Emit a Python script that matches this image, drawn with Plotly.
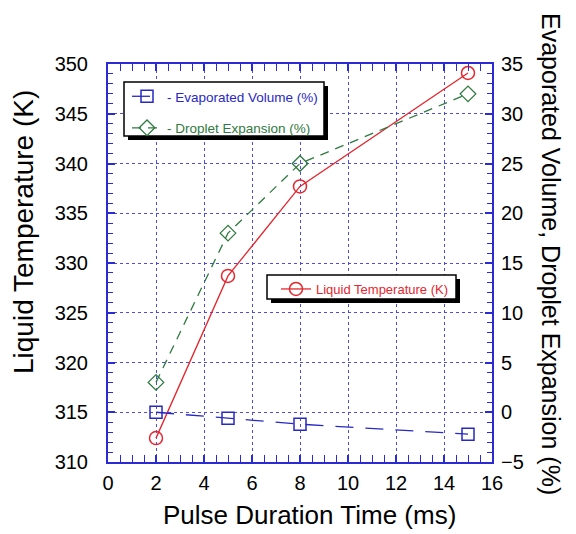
import plotly.graph_objects as go

# ---- data ----
pulse_ms = [2, 5, 8, 15]
liquid_temp_K = [312.4, 328.7, 337.7, 349.1]
droplet_expansion_pct = [3.0, 18.0, 25.0, 32.0]
evaporated_volume_pct = [0.0, -0.6, -1.2, -2.2]

x_ticks = list(range(0, 17, 2))
y_left_ticks = list(range(310, 351, 5))
y_right_ticks = list(range(-5, 36, 5))

name_evap = "- Evaporated Volume (%)"
name_drop = "- Droplet Expansion (%)"
name_temp = "Liquid Temperature (K)"

# ---- styles ----
AXIS_BLUE = "#2a2ad6"
GRID_BLUE = "#4c4ce6"
RED = "#e5262e"
GREEN = "#2f7a3e"
BLUE = "#2828c4"
FONT = "Liberation Sans, Arial, Helvetica, sans-serif"

W, H = 576, 534
OFF = 8  # default page body margin
ML, MR, MT, MB = 108, 84, 64, 72  # in page pixels
PW, PH = W - ML - MR, H - MT - MB


def px(x):
    return (x - ML) / PW


def py(y):
    return (H - MB - y) / PH


fig = go.Figure()

fig.add_trace(go.Scatter(
    x=pulse_ms, y=evaporated_volume_pct, yaxis="y2", mode="lines+markers",
    name=f'<span style="color:{BLUE}">{name_evap}</span>',
    line=dict(color=BLUE, width=1.3, dash="18px,12px"),
    marker=dict(symbol="square-open", size=12, color=BLUE, line=dict(width=1.5, color=BLUE)),
    legend="legend", legendgroup="a"))

fig.add_trace(go.Scatter(
    x=pulse_ms, y=droplet_expansion_pct, yaxis="y2", mode="lines+markers",
    name=f'<span style="color:{GREEN}">{name_drop}</span>',
    line=dict(color=GREEN, width=1.3, dash="9px,7px"),
    marker=dict(symbol="diamond-open", size=12, color=GREEN, line=dict(width=1.3, color=GREEN)),
    legend="legend", legendgroup="b"))

fig.add_trace(go.Scatter(
    x=pulse_ms, y=liquid_temp_K, yaxis="y", mode="lines+markers",
    name=f'<span style="color:{RED}">{name_temp}</span>',
    line=dict(color=RED, width=1.3),
    marker=dict(symbol="circle-open", size=13, color=RED, line=dict(width=1.5, color=RED)),
    legend="legend2"))

axis_common = dict(
    showline=True, linecolor=AXIS_BLUE, linewidth=2,
    ticks="inside", ticklen=7, tickwidth=1.5, tickcolor=AXIS_BLUE,
    showgrid=True, gridcolor=GRID_BLUE, gridwidth=1, griddash="dot",
    zeroline=False,
    tickfont=dict(family=FONT, size=20, color="black"),
)

fig.update_layout(
    width=W - OFF, height=H - OFF,
    margin=dict(l=ML - OFF, r=MR, t=MT - OFF, b=MB, autoexpand=False),
    paper_bgcolor="white", plot_bgcolor="white",
    font=dict(family=FONT, color="black"),
    xaxis=dict(range=[0, 16], tickvals=x_ticks, mirror="allticks",
               minor=dict(ticks="inside", dtick=0.5, ticklen=5, tickcolor=AXIS_BLUE, tickwidth=1.2),
               ticklabelstandoff=2, **axis_common),
    yaxis=dict(range=[310, 350], tickvals=y_left_ticks,
               minor=dict(ticks="inside", dtick=1, ticklen=5, tickcolor=AXIS_BLUE, tickwidth=1.2),
               ticklabelstandoff=14, **axis_common),
    yaxis2=dict(range=[-5, 35], tickvals=y_right_ticks, overlaying="y", side="right",
                minor=dict(ticks="inside", dtick=1, ticklen=5, tickcolor=AXIS_BLUE, tickwidth=1.2),
                ticklabelstandoff=3, **{**axis_common, "showgrid": False}),
    legend=dict(x=px(127), y=py(81), xanchor="left", yanchor="top",
                bgcolor="rgba(0,0,0,0)", borderwidth=0, tracegroupgap=11,
                font=dict(family=FONT, size=13.5)),
    legend2=dict(x=px(276), y=py(274), xanchor="left", yanchor="top",
                 bgcolor="rgba(0,0,0,0)", borderwidth=0,
                 font=dict(family=FONT, size=13)),
    showlegend=True,
)


# legend boxes with drop shadows
def box(x0, y0, x1, y1, off=4):
    fig.add_shape(type="rect", xref="paper", yref="paper",
                  x0=px(x0 + off), x1=px(x1 + off), y0=py(y0 + off), y1=py(y1 + off),
                  fillcolor="black", line=dict(width=0), layer="above")
    fig.add_shape(type="rect", xref="paper", yref="paper",
                  x0=px(x0), x1=px(x1), y0=py(y0), y1=py(y1),
                  fillcolor="white", line=dict(color="black", width=1.5), layer="above")


box(124, 82, 324, 136)
box(267, 275, 456, 299)

# axis titles
title_common = dict(xref="paper", yref="paper", showarrow=False, xanchor="center", yanchor="middle")
fig.add_annotation(text="Pulse Duration Time (ms)", x=px(309), y=py(515),
                   font=dict(family=FONT, size=26, color="black"), **title_common)
fig.add_annotation(text="Liquid Temperature (K)", x=px(23), y=py(232), textangle=-90,
                   font=dict(family=FONT, size=28, color="black"), **title_common)
fig.add_annotation(text="Evaporated Volume, Droplet Expansion (%)", x=px(551), y=py(254), textangle=90,
                   font=dict(family=FONT, size=25, color="black"), **title_common)

fig.write_html("out.html")
